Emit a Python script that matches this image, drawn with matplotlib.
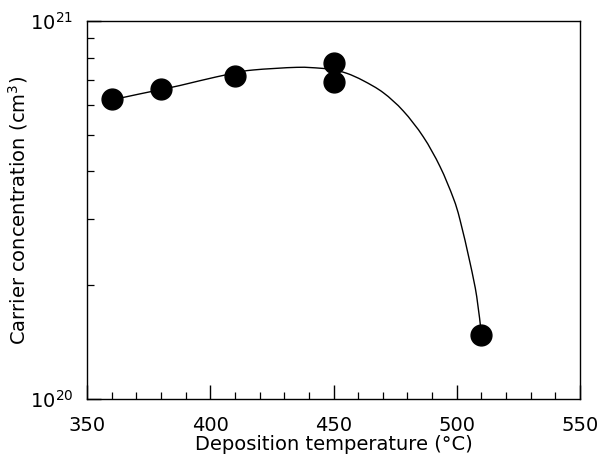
import numpy as np
import matplotlib
matplotlib.use("Agg")
import matplotlib.pyplot as plt
from matplotlib.path import Path
from matplotlib.patches import PathPatch
from matplotlib.ticker import FixedLocator, NullFormatter, LogLocator

plt.rcParams["font.family"] = ["DejaVu Sans"]
plt.rcParams["mathtext.fontset"] = "dejavusans"

# Measured carrier concentration (cm^-3) vs deposition temperature (°C)
temp_pts = [360, 380, 410, 450, 450, 510]
conc_pts = [6.2e20, 6.6e20, 7.15e20, 7.75e20, 6.9e20, 1.48e20]

# Guide-to-the-eye curve traced through the data
curve_temp = [360, 363.4, 379.2, 387.7, 395.8, 409.2, 417.5, 435.1,
              444.5, 449.4, 455.4, 462.1, 470.2, 478.3, 486.4, 493.2, 498.6,
              501.3, 505.4, 508.1, 510]
curve_conc = [6.15e20, 6.25e20, 6.57e20, 6.75e20, 6.95e20, 7.27e20,
              7.42e20, 7.54e20, 7.50e20, 7.43e20, 7.27e20, 6.95e20,
              6.46e20, 5.78e20, 4.94e20, 4.12e20, 3.40e20, 2.98e20, 2.29e20,
              1.865e20, 1.48e20]

fig = plt.figure(figsize=(6.0, 4.61), dpi=100)
ax = fig.add_axes([0.145, 0.1345, 0.8217, 0.82])

ax.set_yscale("log")
ax.set_xlim(350, 550)
ax.set_ylim(1e20, 1e21)


def smooth_path(ax, xs, ys):
    """Catmull-Rom style Bezier path through the traced knots (display space)."""
    pts = ax.transData.transform(np.column_stack([xs, ys]))
    verts = [tuple(pts[0])]
    codes = [Path.MOVETO]
    n = len(pts)
    for i in range(n - 1):
        p0 = pts[i - 1] if i > 0 else pts[i]
        p1 = pts[i]
        p2 = pts[i + 1]
        p3 = pts[i + 2] if i + 2 < n else pts[i + 1]
        c1 = p1 + (p2 - p0) / 6.0
        c2 = p2 - (p3 - p1) / 6.0
        verts += [tuple(c1), tuple(c2), tuple(p2)]
        codes += [Path.CURVE4] * 3
    return Path(verts, codes)


ax.xaxis.set_major_locator(FixedLocator([350, 400, 450, 500, 550]))
ax.xaxis.set_minor_locator(FixedLocator(list(range(350, 551, 10))))
ax.yaxis.set_major_locator(FixedLocator([1e20, 1e21]))
ax.yaxis.set_minor_locator(LogLocator(base=10, subs=range(2, 10)))
ax.yaxis.set_minor_formatter(NullFormatter())
ax.set_yticklabels([r"$10^{20}$", r"$10^{21}$"])

ax.tick_params(axis="both", which="major", direction="in", length=10,
               width=1, labelsize=14, top=False, right=False)
ax.tick_params(axis="both", which="minor", direction="in", length=5,
               width=0.9, top=False, right=False)
ax.tick_params(axis="x", which="major", pad=12)
ax.tick_params(axis="y", which="major", pad=10)

for s in ax.spines.values():
    s.set_linewidth(1.0)

ax.set_xlabel("Deposition temperature (°C)", fontsize=14)
ax.set_ylabel("Carrier concentration (cm$^3$)", fontsize=14)
ax.xaxis.set_label_coords(0.5, -0.095)
ax.yaxis.set_label_coords(-0.1156, 0.5)

path = smooth_path(ax, curve_temp, curve_conc)
ax.add_patch(PathPatch(path, transform=None, facecolor="none",
                       edgecolor="black", lw=1.0, zorder=2, clip_on=False))
ax.plot(temp_pts, conc_pts, "o", color="black", ms=15, zorder=3)

fig.savefig("out.png", dpi=100)
